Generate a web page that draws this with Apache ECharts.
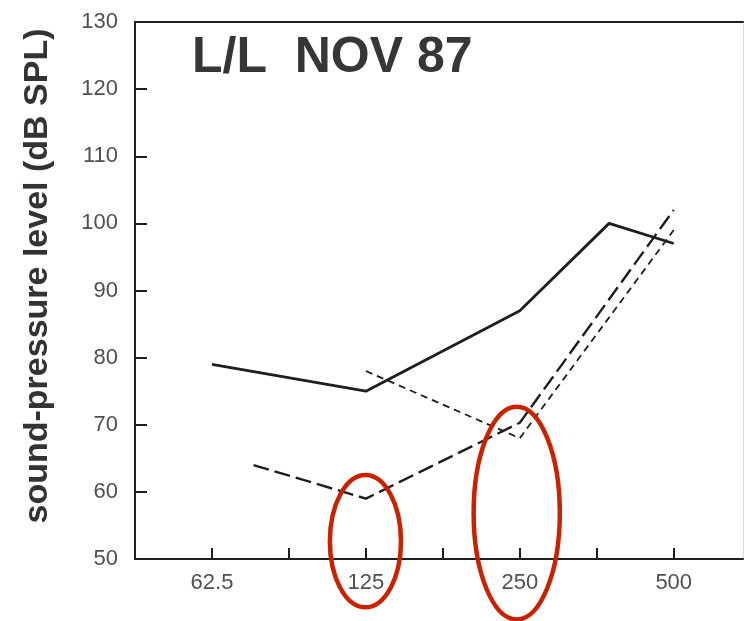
<!DOCTYPE html>
<html>
<head>
<meta charset="utf-8">
<script src="https://cdn.jsdelivr.net/npm/echarts@6/dist/echarts.min.js"></script>
<style>
  html, body { margin: 0; padding: 0; background: #fff; }
  #chart { width: 746px; height: 621px; }
</style>
</head>
<body>
<div id="chart"></div>
<script>
// Octave-band axis: position 0 = 62.5 Hz, each step is one octave.
var freqLabels = ['62.5', '125', '250', '500'];
var freqPositions = [0, 1, 2, 3];
var halfOctaveTicks = [0, 0.5, 1, 1.5, 2, 2.5, 3];

// Sound-pressure levels (dB SPL) as [octave position, level]
var solidCurve = [[0, 79], [1, 75], [2, 87], [2.58, 100], [3, 97]];
var longDashCurve = [[0.27, 64], [1, 59], [2, 70.3], [3, 102]];
var shortDashCurve = [[1, 78], [2, 68], [3, 99]];

// Highlight rings around the 125 and 250 Hz bands: [xMin, xMax, yMin, yMax] in axis units
var rings = [
  [0.766, 1.228, 42.8, 62.5],
  [1.70, 2.26, 41.0, 72.7]
];

var title = 'L/L  NOV 87';
var yTitle = 'sound-pressure level (dB SPL)';

var chart = echarts.init(document.getElementById('chart'), null, { renderer: 'canvas' });

var ink = '#1e1e1e';
var labelColor = '#505050';
var fontFamily = '"Liberation Sans", Arial, Helvetica, sans-serif';

var option = {
  backgroundColor: '#ffffff',
  animation: false,
  grid: { left: 135, right: 3, top: 22, bottom: 62 },
  xAxis: [{
    type: 'value',
    min: -0.5,
    max: 3.45,
    splitLine: { show: false },
    axisLine: { onZero: false, lineStyle: { color: ink, width: 2 } },
    axisTick: {
      inside: true, length: 11, customValues: halfOctaveTicks,
      lineStyle: { color: ink, width: 2 }
    },
    axisLabel: {
      customValues: freqPositions,
      formatter: function (v) {
        var i = freqPositions.indexOf(v);
        return i >= 0 ? freqLabels[i] : '';
      },
      color: labelColor, fontSize: 22, fontFamily: fontFamily, margin: 13
    }
  }, {
    type: 'value',
    position: 'top',
    min: -0.5,
    max: 3.45,
    splitLine: { show: false },
    axisLine: { show: true, onZero: false, lineStyle: { color: ink, width: 2 } },
    axisTick: { show: false },
    axisLabel: { show: false }
  }],
  yAxis: [{
    type: 'value',
    min: 50,
    max: 130,
    interval: 10,
    splitLine: { show: false },
    axisLine: { show: true, onZero: false, lineStyle: { color: ink, width: 2 } },
    axisTick: { show: true, inside: true, length: 12, lineStyle: { color: ink, width: 2 } },
    axisLabel: { color: labelColor, fontSize: 22, fontFamily: fontFamily, margin: 17 }
  }, {
    type: 'value',
    position: 'right',
    min: 50,
    max: 130,
    splitLine: { show: false },
    axisLine: { show: true, onZero: false, lineStyle: { color: '#d8d8d8', width: 1 } },
    axisTick: { show: false },
    axisLabel: { show: false }
  }],
  series: [{
    type: 'line',
    name: 'solid',
    data: solidCurve,
    symbol: 'none',
    lineStyle: { color: ink, width: 2.8, type: 'solid' }
  }, {
    type: 'line',
    name: 'long dash',
    data: longDashCurve,
    symbol: 'none',
    lineStyle: { color: ink, width: 2.4, type: [16, 6] }
  }, {
    type: 'line',
    name: 'short dash',
    data: shortDashCurve,
    symbol: 'none',
    lineStyle: { color: ink, width: 1.8, type: [7, 5] }
  }]
};

chart.setOption(option);

// Title, axis name and highlight rings drawn as graphic elements
var graphics = [{
  type: 'text',
  left: 192,
  top: 33,
  style: {
    text: title,
    fill: '#363636',
    font: 'bold 50px ' + fontFamily
  }
}, {
  type: 'text',
  x: 38,
  y: 276,
  rotation: Math.PI / 2,
  style: {
    text: yTitle,
    fill: '#333333',
    font: 'bold 34px ' + fontFamily,
    align: 'center',
    verticalAlign: 'middle'
  }
}];

rings.forEach(function (r) {
  var p1 = chart.convertToPixel({ gridIndex: 0 }, [r[0], r[3]]);
  var p2 = chart.convertToPixel({ gridIndex: 0 }, [r[1], r[2]]);
  graphics.push({
    type: 'ellipse',
    shape: {
      cx: (p1[0] + p2[0]) / 2,
      cy: (p1[1] + p2[1]) / 2,
      rx: Math.abs(p2[0] - p1[0]) / 2,
      ry: Math.abs(p2[1] - p1[1]) / 2
    },
    style: { fill: 'none', stroke: '#c92200', lineWidth: 4.5 },
    z: 100
  });
});

chart.setOption({ graphic: graphics });
</script>
</body>
</html>
